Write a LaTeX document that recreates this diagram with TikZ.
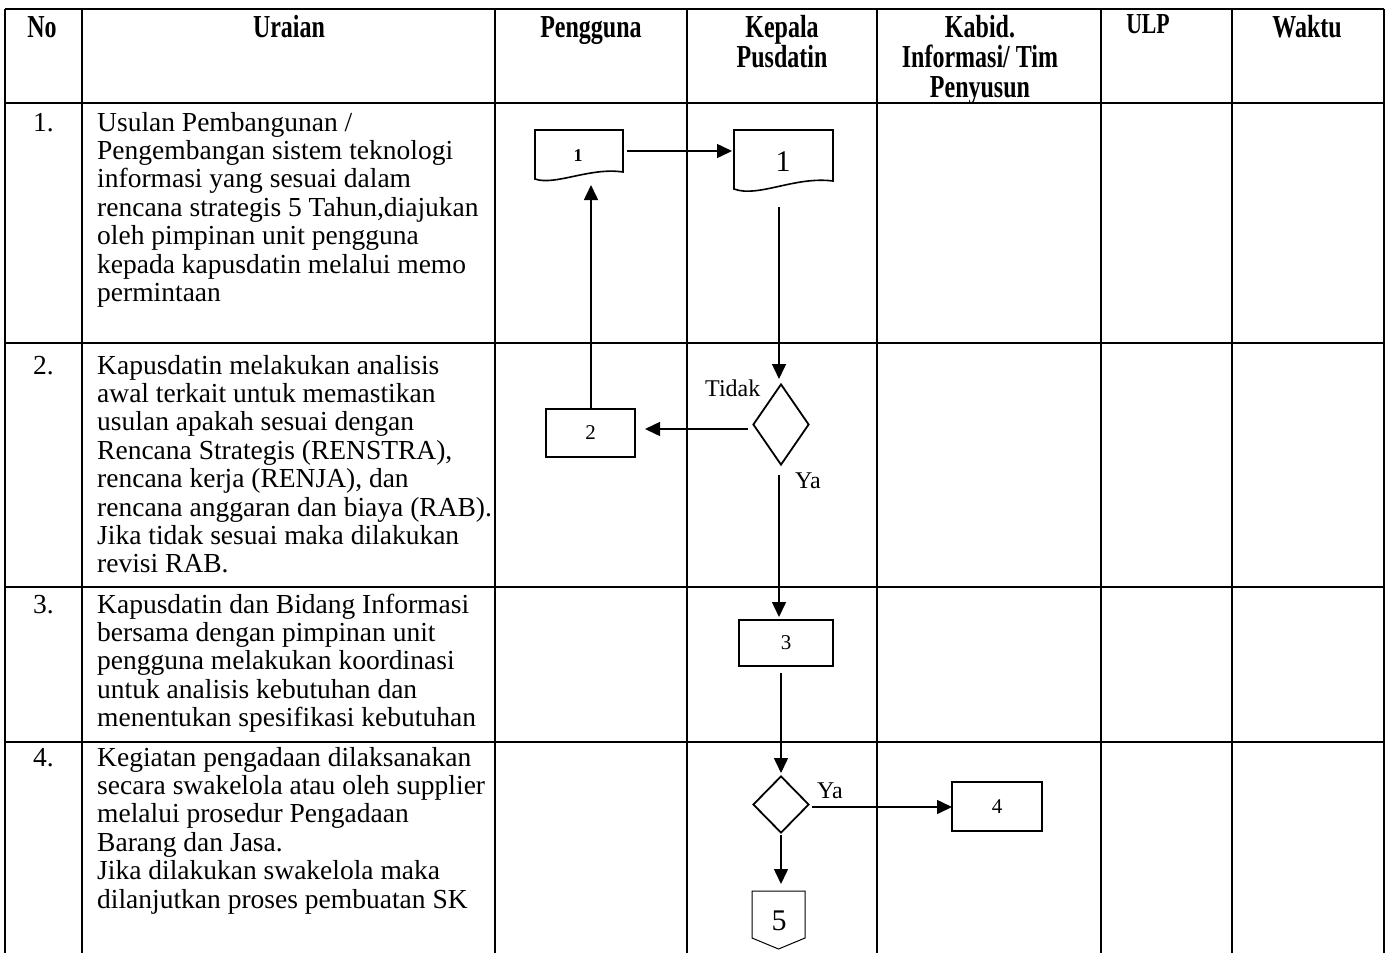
\documentclass[tikz,border=0pt]{standalone}
\usepackage{fontspec}
\setmainfont{Liberation Serif}
\newfontfamily\headfont[FakeStretch=0.75]{Liberation Serif}
\usetikzlibrary{arrows.meta,shapes.geometric}

\begin{document}
\begin{tikzpicture}[x=1pt,y=-1pt,
  grid/.style={line width=2.3pt},
  head/.style={font=\headfont\bfseries\fontsize{32}{30}\selectfont, align=center, anchor=base, inner sep=0pt},
  body/.style={font=\fontsize{27.5}{28.4}\selectfont, align=left, anchor=base west, inner sep=0pt},
  num/.style={font=\fontsize{27.5}{28.4}\selectfont, anchor=base west, inner sep=0pt},
  lbl/.style={font=\fontsize{24}{24}\selectfont, anchor=base west, inner sep=0pt},
  box/.style={draw, line width=1.8pt, rectangle, inner sep=0pt, font=\fontsize{21}{21}\selectfont},
  dia/.style={draw, line width=1.8pt, diamond, inner sep=0pt},
  docline/.style={line width=1.6pt, line join=miter},
  flow/.style={line width=1.5pt},
  arr/.style={flow, -{Triangle[length=15pt,width=14pt]}},
]
\useasboundingbox (0,0) rectangle (1389,953);

% table grid
\draw[grid] (5,9) -- (1384,9);
\foreach \yy in {103,343,587,742} \draw[grid] (5,\yy) -- (1384,\yy);
\foreach \xx in {5,82,495,687,877,1101,1232,1384} \draw[grid] (\xx,9) -- (\xx,953);

% header (multi-line nodes are anchored on their last baseline)
\node[head] (hNo) at (42,37) {No};
\node[head] (hUr) at (289,37) {Uraian};
\node[head] (hPg) at (591,37) {Pengguna};
\node[head] (hKp) at (782,67) {Kepala\\Pusdatin};
\node[head] (hKb) at (980,97) {Kabid.\\Informasi/ Tim\\Penyusun};
\node[head, font=\headfont\bfseries\fontsize{29}{29}\selectfont] (hUlp) at (1148,33) {ULP};
\node[head] (hWk) at (1307,37) {Waktu};

% row numbers
\node[num] (n1) at (33,131) {1.};
\node[num] (n2) at (33,374) {2.};
\node[num] (n3) at (33,613) {3.};
\node[num] (n4) at (33,766) {4.};

% descriptions
\node[body] (t1) at (97,301.4) {Usulan Pembangunan /\\Pengembangan sistem teknologi\\informasi yang sesuai dalam\\rencana strategis 5 Tahun,diajukan\\oleh pimpinan unit pengguna\\kepada kapusdatin melalui memo\\permintaan};
\node[body] (t2) at (97,572.8) {Kapusdatin melakukan analisis\\awal terkait untuk memastikan\\usulan apakah sesuai dengan\\Rencana Strategis (RENSTRA),\\rencana kerja (RENJA), dan\\rencana anggaran dan biaya (RAB).\\Jika tidak sesuai maka dilakukan\\revisi RAB.};
\node[body] (t3) at (97,726.6) {Kapusdatin dan Bidang Informasi\\bersama dengan pimpinan unit\\pengguna melakukan koordinasi\\untuk analisis kebutuhan dan\\menentukan spesifikasi kebutuhan};
\node[body] (t4) at (97,908) {Kegiatan pengadaan dilaksanakan\\secara swakelola atau oleh supplier\\melalui prosedur Pengadaan\\Barang dan Jasa.\\Jika dilakukan swakelola maka\\dilanjutkan proses pembuatan SK};

% documents (memo)
\draw[docline] (535,130) -- (623,130) -- (623,172) .. controls (590,167) and (555,186) .. (535,179) -- cycle;
\node[inner sep=0pt, font=\bfseries\fontsize{18}{18}\selectfont] (doc1) at (578,156) {1};
\draw[docline] (734,130) -- (833,130) -- (833,181) .. controls (795,176) and (758,198) .. (734,189) -- cycle;
\node[inner sep=0pt, font=\fontsize{30}{30}\selectfont] (doc2) at (783,162) {1};

% process boxes and decisions
\node[box, minimum width=89pt, minimum height=48pt] (b2) at (590.5,433) {2};
\node[box, minimum width=94pt, minimum height=46pt] (b3) at (786,643) {3};
\node[box, minimum width=90pt, minimum height=49pt] (b4) at (997,806.5) {4};
\node[dia, minimum width=56pt, minimum height=81pt] (d1) at (781,424.5) {};
\node[dia, minimum width=56pt, minimum height=57pt] (d2) at (781,804.5) {};

% off-page connector
\draw[line width=1pt] (752,891) -- (805,891) -- (805,938) -- (778.5,949) -- (752,938) -- cycle;
\node[inner sep=0pt, font=\fontsize{30}{30}\selectfont] (c5) at (779,921) {5};

% connector end points
\coordinate (doc1R) at (627,151);
\coordinate (doc2L) at (732,151);
\coordinate (doc1B) at (591,185);
\coordinate (doc2B) at (779,207);
\coordinate (d1T) at (779,379);
\coordinate (d1L) at (748,429);
\coordinate (b2R) at (645,429);
\coordinate (d1B) at (779,475);
\coordinate (b3T) at (779,617);
\coordinate (b3B) at (781,673);
\coordinate (d2T) at (781,773);
\coordinate (d2R) at (812,807);
\coordinate (b4L) at (952,807);
\coordinate (d2B) at (781,835);
\coordinate (c5T) at (781,884);

% connectors
\draw[arr] (doc1R) -- (doc2L);
\draw[arr] (b2.north) ++(0.5,0) -- (doc1B);
\draw[arr] (doc2B) -- (d1T);
\draw[arr] (d1L) -- (b2R);
\draw[arr] (d1B) -- (b3T);
\draw[arr] (b3B) -- (d2T);
\draw[arr] (d2R) -- (b4L);
\draw[arr] (d2B) -- (c5T);

% decision labels
\node[lbl] (lTidak) at (705,396) {Tidak};
\node[lbl] (lYa1) at (795,488) {Ya};
\node[lbl] (lYa2) at (817,798) {Ya};
\end{tikzpicture}
\end{document}
